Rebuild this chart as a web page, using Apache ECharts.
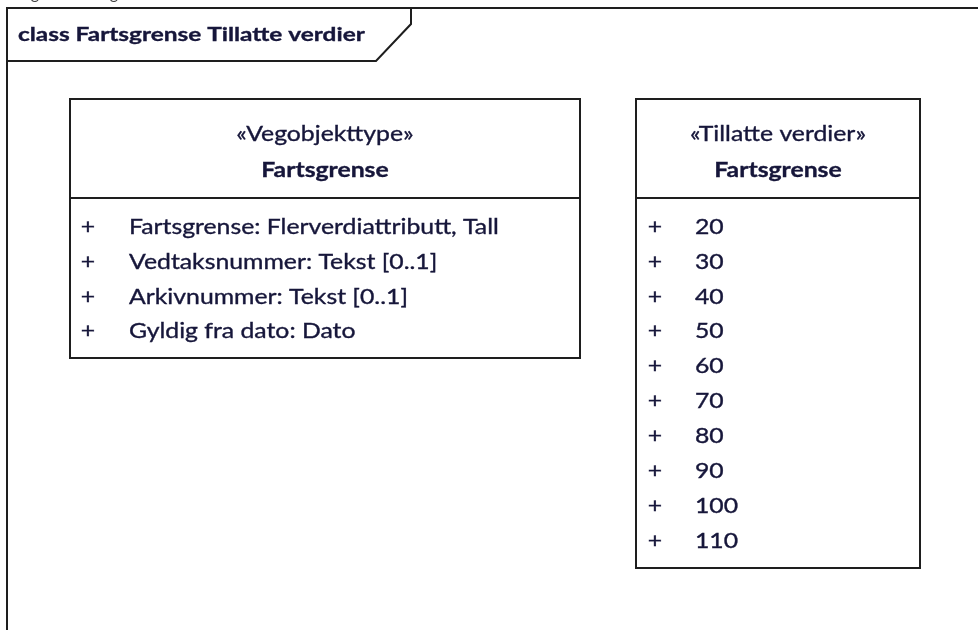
<!DOCTYPE html>
<html>
<head>
<meta charset="utf-8">
<script src="https://cdn.jsdelivr.net/npm/echarts@6/dist/echarts.min.js"></script>
<style>html,body{margin:0;padding:0;background:#fff}#c{width:978px;height:630px}</style>
</head>
<body>
<div id="c"></div>
<script>
// Diagram content
const diagramTitle = 'class Fartsgrense Tillatte verdier';
const captionText = 'Figur 5: Fartsgrense Tillatte verdier';
const classStereotype = '«Vegobjekttype»';
const className = 'Fartsgrense';
const classAttributes = [
  'Fartsgrense: Flerverdiattributt, Tall',
  'Vedtaksnummer: Tekst [0..1]',
  'Arkivnummer: Tekst [0..1]',
  'Gyldig fra dato: Dato'
];
const enumStereotype = '«Tillatte verdier»';
const enumName = 'Fartsgrense';
const enumValues = ['20', '30', '40', '50', '60', '70', '80', '90', '100', '110'];

const FONT = '"Lato"';
const TXT = '#16163a';
const LINE = '#1e1e1e';
const ROW = 34.9;
const F_ITEM = '21px ' + FONT;
const F_STEREO = '21px ' + FONT;
const F_NAME = 'bold 21px ' + FONT;
const F_TITLE = 'bold 19px ' + FONT;
const SX = 1.18;       // horizontal stretch to mimic the wide original face
const SX_TITLE = 1.285;

function txt(x, y, s, font, align, sx) {
  return {type: 'text', x: x, y: y, scaleX: sx, style: {text: s, font: font,
    fill: TXT, stroke: TXT, lineWidth: 0.35, align: align, verticalAlign: 'middle'}};
}

function box(x, y, w, h, headerH, stereo, name, items, plusX, textX) {
  const els = [];
  els.push({type: 'rect', shape: {x: x, y: y, width: w, height: h},
    style: {fill: '#fff', stroke: LINE, lineWidth: 2}});
  els.push({type: 'line', shape: {x1: x, y1: y + headerH, x2: x + w, y2: y + headerH},
    style: {stroke: LINE, lineWidth: 2}});
  els.push(txt(x + w / 2, y + 35, stereo, F_STEREO, 'center', SX));
  els.push(txt(x + w / 2, y + 71, name, F_NAME, 'center', SX));
  items.forEach(function (t, i) {
    const cy = y + headerH + 29 + i * ROW;
    els.push(txt(plusX, cy, '+', F_ITEM, 'center', SX));
    els.push(txt(textX, cy, t, F_ITEM, 'left', SX));
  });
  return els;
}

const chart = echarts.init(document.getElementById('c'), null, {renderer: 'canvas'});
let elements = [];
// caption, clipped at top of the picture
elements.push({type: 'text', x: 18, y: 2, style: {text: captionText, font: '16px ' + FONT,
  fill: '#444', align: 'left', verticalAlign: 'bottom'}});
// frame
elements.push({type: 'polyline', shape: {points: [[7, 631], [7, 8], [979, 8]]},
  style: {stroke: LINE, lineWidth: 2, fill: null}});
// title tab
elements.push({type: 'polyline', shape: {points: [[7, 61], [376, 61], [411, 24], [411, 8]]},
  style: {stroke: LINE, lineWidth: 2, fill: null}});
elements.push(txt(18, 35, diagramTitle, F_TITLE, 'left', SX_TITLE));

elements = elements.concat(box(70, 99, 510, 259, 99, classStereotype, className, classAttributes, 88, 129));
elements = elements.concat(box(636, 99, 284, 469, 99, enumStereotype, enumName, enumValues, 655, 695));

chart.setOption({
  animation: false,
  backgroundColor: '#fff',
  graphic: {elements: elements}
});
</script>
</body>
</html>
